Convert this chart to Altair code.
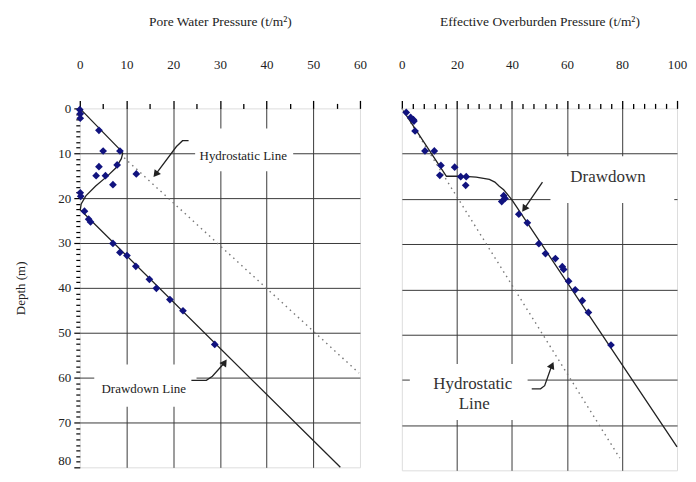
import altair as alt
import pandas as pd

FONT = "Liberation Serif, Times New Roman, DejaVu Serif, serif"

# ---------------- Left panel: pore water pressure (t/m2) vs depth (m)
pwp_depth = [0.3, 1.2, 2.2, 4.9, 9.5, 9.5, 12.6, 13.0, 14.6, 15.0, 15.0, 17.0, 18.8, 19.6,
             22.9, 24.7, 25.3, 30.1, 32.1, 32.8, 35.2, 38.1, 40.1, 42.6, 45.1, 52.6]
pwp_value = [0.0, 0.1, 0.1, 4.1, 5.0, 8.6, 8.0, 4.1, 12.1, 3.5, 5.5, 7.1, 0.1, 0.2,
             1.0, 1.9, 2.3, 7.1, 8.6, 10.1, 12.0, 14.9, 16.4, 19.3, 22.1, 28.9]

pwp_drawdown_depth = [0, 9.2, 10.0, 11.2, 13.3, 15.1, 17.3, 19.5, 21.3, 22.6, 80]
pwp_drawdown_value = [0, 8.6, 9.2, 8.9, 7.7, 5.9, 3.4, 1.3, 0.3, 0.1, 55.8]

pwp_hydro_depth = [11.0, 59.0]
pwp_hydro_value = [9.5, 59.8]

# ---------------- Right panel: effective overburden pressure (t/m2) vs depth (m)
eop_depth = [0.9, 2.0, 2.5, 2.8, 5.0, 9.4, 9.4, 12.6, 13.0, 14.8, 15.1, 15.1, 17.0, 19.3,
             19.9, 20.6, 23.4, 25.3, 29.9, 32.1, 33.2, 35.0, 35.6, 38.2, 40.1, 42.5, 45.1, 52.3]
eop_value = [1.6, 3.2, 4.2, 4.4, 4.8, 8.4, 11.8, 14.2, 19.2, 13.8, 21.4, 23.4, 23.2, 37.0,
             37.5, 36.3, 42.5, 45.6, 49.8, 52.2, 55.8, 58.3, 58.8, 60.6, 63.0, 65.6, 67.8, 76.0]

eop_drawdown_depth = [0.5, 15.0, 15.0, 15.05, 15.2, 15.7, 16.3, 17.2, 18.0, 19.0, 20.2, 21.5, 74.8]
eop_drawdown_value = [0.5, 16.2, 19.8, 23.0, 27.0, 31.8, 33.8, 35.4, 37.0, 38.4, 40.0, 41.4, 100.0]

eop_hydro_depth = [0.0, 77.3]
eop_hydro_value = [0.0, 79.2]

# ---------------- Annotations (data coordinates)
left_labels = pd.DataFrame({
    "x": [35.0, 13.7], "y": [10.7, 62.6], "t": ["Hydrostatic Line", "Drawdown Line"]})
left_boxes = pd.DataFrame({
    "x": [24.7, 3.1], "x2": [45.7, 25.0], "y": [4.5, 57.1], "y2": [14.0, 66.5]})
left_arrow1 = pd.DataFrame({"x": [23.3, 22.0, 20.7, 16.4], "y": [7.2, 7.2, 8.5, 14.5], "i": [0, 1, 2, 3]})
left_arrow2 = pd.DataFrame({"x": [23.9, 27.1, 28.4, 30.9], "y": [60.6, 60.6, 59.7, 56.8], "i": [0, 1, 2, 3]})

right_labels = pd.DataFrame({
    "x": [74.9, 25.8, 26.3], "y": [15.2, 60.9, 65.3], "t": ["Drawdown", "Hydrostatic", "Line"]})
right_boxes = pd.DataFrame({
    "x": [54.0, 2.9], "x2": [99.0, 45.7], "y": [10.6, 56.5], "y2": [20.9, 68.9]})
right_arrow1 = pd.DataFrame({"x": [51.1, 44.7], "y": [16.3, 22.0], "i": [0, 1]})
right_arrow2 = pd.DataFrame({"x": [47.2, 50.4, 51.9, 54.4], "y": [62.0, 62.0, 61.3, 57.0], "i": [0, 1, 2, 3]})

POINT_COLOR = "#11137f"
LINE_COLOR = "#222222"
GRID_COLOR = "#3a3a3a"


def x_enc(domain, step, major, title):
    ticks = list(range(domain[0], domain[1] + 1, step))
    test_major = f"datum.value % {major} === 0"
    return alt.X(
        "x:Q",
        scale=alt.Scale(domain=domain, nice=False, zero=False),
        axis=alt.Axis(
            orient="top", values=ticks, title=title,
            labelExpr=f"{test_major} ? datum.label : ''",
            labelOverlap=False, labelFlush=False,
            tickSize={"condition": {"test": test_major, "value": 8}, "value": 5},
            tickColor="black", tickWidth=1.3, domain=False,
            grid=True, gridColor=GRID_COLOR, gridWidth=1,
            gridOpacity={"condition": {"test": f"{test_major} && datum.value > {domain[0]} && datum.value < {domain[1]}", "value": 1}, "value": 0},
            labelFont=FONT, labelFontSize=13, labelColor="#222", labelPadding=29,
            titleFont=FONT, titleFontSize=13.5, titleFontWeight="normal", titleColor="#222",
            titlePadding=30,
        ),
    )


def y_left():
    ticks = [i * 1.25 for i in range(65)]
    test_major = "datum.value % 10 === 0"
    return alt.Y(
        "y:Q",
        scale=alt.Scale(domain=[0, 80], reverse=True, nice=False),
        axis=alt.Axis(
            orient="left", values=ticks, title="Depth (m)",
            labelExpr=f"{test_major} ? datum.label : ''",
            labelOverlap=False, labelFlush=False,
            labelBaseline={"condition": {"test": "datum.value === 80", "value": "bottom"}, "value": "middle"},
            tickSize={"condition": {"test": test_major, "value": 6}, "value": 4},
            tickColor="black", tickWidth=1.2, domain=False,
            grid=True, gridColor=GRID_COLOR, gridWidth=1,
            gridOpacity={"condition": {"test": f"{test_major} && datum.value > 0 && datum.value < 80", "value": 1}, "value": 0},
            labelFont=FONT, labelFontSize=13, labelColor="#222", labelPadding=3,
            titleFont=FONT, titleFontSize=13, titleFontWeight="normal", titleColor="#222",
            titlePadding=30,
        ),
    )


def y_right():
    return alt.Y(
        "y:Q",
        scale=alt.Scale(domain=[0, 80], reverse=True, nice=False),
        axis=alt.Axis(
            values=[10, 20, 30, 40, 50, 60, 70], labels=False, ticks=False, domain=False,
            grid=True, gridColor=GRID_COLOR, gridWidth=1, title=None,
        ),
    )


def panel(xe, ye, pts, draw, hydro, boxes, labels, arrows, heads, label_size, label_color):
    layers = []
    layers.append(alt.Chart(hydro).mark_line(color="#777", strokeWidth=1.4, strokeDash=[1.5, 4])
                  .encode(x=xe, y=ye, order="i:Q"))
    layers.append(alt.Chart(draw).mark_line(color=LINE_COLOR, strokeWidth=1.3)
                  .encode(x=xe, y=ye, order="i:Q"))
    layers.append(alt.Chart(boxes).mark_rect(color="white")
                  .encode(x=xe, x2="x2:Q", y=ye, y2="y2:Q"))
    layers.append(alt.Chart(labels).mark_text(font=FONT, fontSize=label_size, color=label_color)
                  .encode(x=xe, y=ye, text="t:N"))
    for a, ang in zip(arrows, heads):
        layers.append(alt.Chart(a).mark_line(color=LINE_COLOR, strokeWidth=1.3)
                      .encode(x=xe, y=ye, order="i:Q"))
        tip = a.tail(1)
        layers.append(alt.Chart(tip).mark_point(shape="triangle", filled=True, color=LINE_COLOR,
                                                size=65, opacity=1)
                      .encode(x=xe, y=ye, angle=alt.value(ang)))
    layers.append(alt.Chart(pts).mark_point(shape="diamond", filled=True, color=POINT_COLOR,
                                            size=60, opacity=1)
                  .encode(x=xe, y=ye))
    return alt.layer(*layers)


def line_df(vals, depths):
    return pd.DataFrame({"x": vals, "y": depths, "i": list(range(len(vals)))})


left = panel(
    x_enc([0, 60], 5, 10, "Pore Water Pressure (t/m²)"), y_left(),
    pd.DataFrame({"x": pwp_value, "y": pwp_depth}),
    line_df(pwp_drawdown_value, pwp_drawdown_depth),
    line_df(pwp_hydro_value, pwp_hydro_depth),
    left_boxes, left_labels, [left_arrow1, left_arrow2], [218, 34], 13, "#222",
).properties(width=281, height=360)

right = panel(
    x_enc([0, 100], 4, 20, "Effective Overburden Pressure (t/m²)"), y_right(),
    pd.DataFrame({"x": eop_value, "y": eop_depth}),
    line_df(eop_drawdown_value, eop_drawdown_depth),
    line_df(eop_hydro_value, eop_hydro_depth),
    right_boxes, right_labels, [right_arrow1, right_arrow2], [215, 25], 17, "#333",
).properties(width=276, height=363)

chart = alt.hconcat(left, right, spacing=42, bounds="flush").properties(
    padding={"left": 6, "top": 5, "right": 0, "bottom": 0}
).configure_view(stroke="black", strokeWidth=1.6).configure(background="white", font=FONT)

chart.save("out.html", embed_options={"renderer": "svg", "actions": False})
